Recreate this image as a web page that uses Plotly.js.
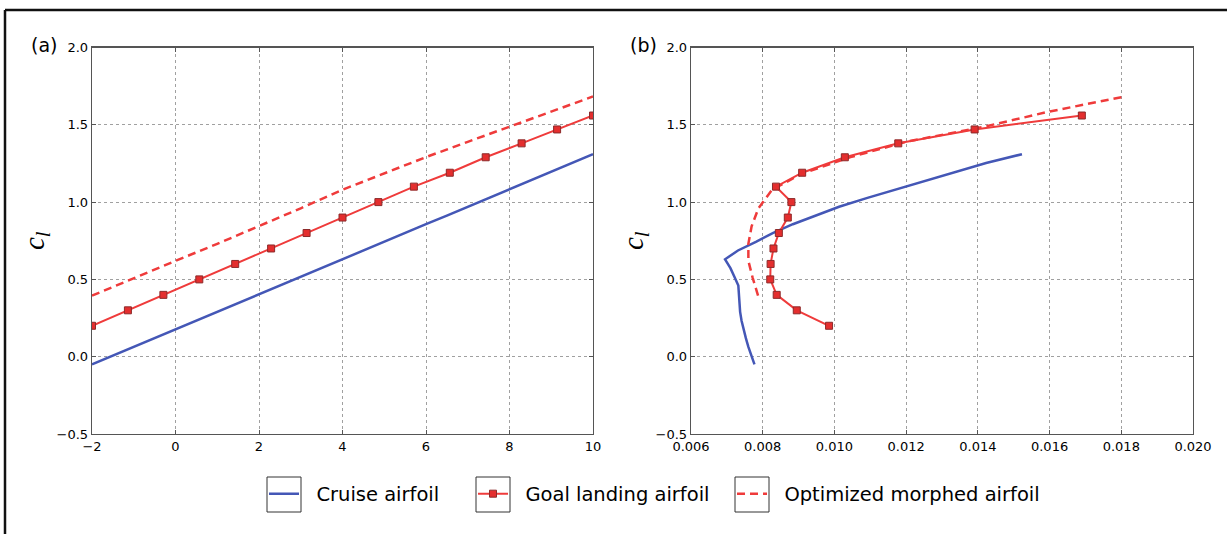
<!DOCTYPE html>
<html>
<head>
<meta charset="utf-8">
<script src="https://cdn.plot.ly/plotly-3.0.1.min.js"></script>
<style>
  html, body { margin: 0; padding: 0; background: #ffffff; }
  #chart { width: 1227px; height: 534px; }
</style>
</head>
<body>
<div id="chart"></div>
<script>
// ---------------- data ----------------
// Cruise airfoil
const cruiseAlpha = [-2, -1.5, -1, -0.5, 0, 0.5, 1, 1.5, 2, 2.5, 3, 3.5, 4, 4.5, 5, 5.5, 6, 6.5, 7, 7.5, 8, 8.5, 9, 9.5, 10];
const cruiseCl    = [-0.05, 0.007, 0.063, 0.12, 0.177, 0.233, 0.29, 0.347, 0.403, 0.46, 0.517, 0.573, 0.63, 0.687, 0.743, 0.80, 0.857, 0.913, 0.97, 1.027, 1.083, 1.14, 1.197, 1.253, 1.31];
const cruiseCd    = [0.00777, 0.00768, 0.00760, 0.00753, 0.00746, 0.00741, 0.00737, 0.00735, 0.00734, 0.00732, 0.00721, 0.00710, 0.00695, 0.00731, 0.00781, 0.00828, 0.00884, 0.00946, 0.01013, 0.01092, 0.01173, 0.01254, 0.01336, 0.01423, 0.01523];

// Goal landing airfoil
const goalAlpha = [-2, -1.14, -0.29, 0.57, 1.43, 2.29, 3.14, 4, 4.86, 5.71, 6.57, 7.43, 8.29, 9.14, 10];
const goalCl    = [0.20, 0.30, 0.40, 0.50, 0.60, 0.70, 0.80, 0.90, 1.00, 1.10, 1.19, 1.29, 1.38, 1.47, 1.56];
const goalCd    = [0.00985, 0.00895, 0.00839, 0.00821, 0.00822, 0.00830, 0.00845, 0.00870, 0.00880, 0.00837, 0.00910, 0.01029, 0.01178, 0.01391, 0.01690];

// Optimized morphed airfoil
const optAlpha = [-2, -1, 0, 1, 2, 3, 4, 5, 6, 7, 8, 9, 10];
const optCl    = [0.395, 0.51, 0.62, 0.73, 0.843, 0.96, 1.08, 1.185, 1.291, 1.39, 1.489, 1.586, 1.683];
const optCd    = [0.00787, 0.00772, 0.00760, 0.00760, 0.00769, 0.00788, 0.00826, 0.00910, 0.01045, 0.01200, 0.01420, 0.01600, 0.01810];

// Tick values / labels
const alphaTicks = [-2, 0, 2, 4, 6, 8, 10];
const cdTicks    = [0.006, 0.008, 0.010, 0.012, 0.014, 0.016, 0.018, 0.020];
const clTicks    = [-0.5, 0.0, 0.5, 1.0, 1.5, 2.0];
const seriesNames = ['Cruise airfoil', 'Goal landing airfoil', 'Optimized morphed airfoil'];
const panelLabels = ['(a)', '(b)'];

// ---------------- styling ----------------
const W = 1227, H = 534;
const M = {l: 20, r: 20, t: 10, b: 10};
const PW = W - M.l - M.r, PH = H - M.t - M.b;
const px = x => (x - M.l) / PW;
const py = y => (H - M.b - y) / PH;
const PAD = '\u00A0\u00A0'; // gap between legend handle box and its label

const BLUE = '#4457b6';
const RED = '#ef3b3b';
const MARKER = {symbol: 'square', size: 7, color: '#e42e2e', line: {color: '#8c2a2a', width: 1}};

const traces = [
  {x: cruiseAlpha, y: cruiseCl, xaxis: 'x', yaxis: 'y', mode: 'lines', name: PAD + seriesNames[0],
   line: {color: BLUE, width: 2.5}, legend: 'legend', showlegend: true},
  {x: goalAlpha, y: goalCl, xaxis: 'x', yaxis: 'y', mode: 'lines+markers', name: PAD + seriesNames[1],
   line: {color: RED, width: 2}, marker: MARKER, legend: 'legend2', showlegend: true},
  {x: optAlpha, y: optCl, xaxis: 'x', yaxis: 'y', mode: 'lines', name: PAD + seriesNames[2],
   line: {color: RED, width: 2.5, dash: '8px,5px'}, legend: 'legend3', showlegend: true},
  {x: cruiseCd, y: cruiseCl, xaxis: 'x2', yaxis: 'y2', mode: 'lines', name: seriesNames[0],
   line: {color: BLUE, width: 2.5}, showlegend: false},
  {x: optCd, y: optCl, xaxis: 'x2', yaxis: 'y2', mode: 'lines', name: seriesNames[2],
   line: {color: RED, width: 2.5, dash: '8px,5px'}, showlegend: false},
  {x: goalCd, y: goalCl, xaxis: 'x2', yaxis: 'y2', mode: 'lines+markers', name: seriesNames[1],
   line: {color: RED, width: 2}, marker: MARKER, showlegend: false}
];

const tickFont = {family: 'DejaVu Sans', size: 13, color: '#000'};
const axisCommon = {
  showline: true, linecolor: '#555', linewidth: 1.3, mirror: 'ticks',
  ticks: 'inside', ticklen: 4, tickcolor: '#555', tickwidth: 1,
  showgrid: true, gridcolor: '#a0a0a0', gridwidth: 1, griddash: 'dot',
  zeroline: false, tickfont: tickFont, fixedrange: true
};
const yTitle = {text: '<i>c</i><sub><i>l</i></sub>', font: {family: 'Liberation Serif', size: 29, color: '#000'}, standoff: 3};

const legendFont = {family: 'DejaVu Sans', size: 19.5, color: '#000'};
const legendY = py(494);
const legendBase = {orientation: 'h', yanchor: 'middle', y: legendY, xanchor: 'left',
  font: legendFont, bgcolor: 'rgba(0,0,0,0)', borderwidth: 0, itemclick: false, itemdoubleclick: false};

// legend handle boxes (pixel positions)
const boxes = [[267, 301], [476, 510], [735, 769]];
const shapes = boxes.map(b => ({type: 'rect', xref: 'paper', yref: 'paper',
  x0: px(b[0]), x1: px(b[1]), y0: py(512), y1: py(477), line: {color: '#333', width: 1}}));
// outer frame (top and left)
shapes.push({type: 'line', xref: 'paper', yref: 'paper', x0: px(5), x1: px(1230), y0: py(10), y1: py(10), line: {color: '#111', width: 2.5}});
shapes.push({type: 'line', xref: 'paper', yref: 'paper', x0: px(5), x1: px(5), y0: py(10), y1: py(540), line: {color: '#111', width: 2.5}});

const layout = {
  width: W, height: H, margin: M,
  paper_bgcolor: '#fff', plot_bgcolor: '#fff',
  font: {family: 'DejaVu Sans', color: '#000'},
  xaxis: Object.assign({}, axisCommon, {domain: [px(92), px(593)], range: [-2, 10], tickvals: alphaTicks, anchor: 'y'}),
  yaxis: Object.assign({}, axisCommon, {domain: [py(434), py(47.5)], range: [-0.5, 2.0], tickvals: clTicks, tickformat: '.1f', anchor: 'x', title: yTitle}),
  xaxis2: Object.assign({}, axisCommon, {domain: [px(691), px(1193)], range: [0.006, 0.020], tickvals: cdTicks, tickformat: '.3f', anchor: 'y2'}),
  yaxis2: Object.assign({}, axisCommon, {domain: [py(434), py(47.5)], range: [-0.5, 2.0], tickvals: clTicks, tickformat: '.1f', anchor: 'x2', title: yTitle}),
  legend:  Object.assign({}, legendBase, {x: px(264)}),
  legend2: Object.assign({}, legendBase, {x: px(473)}),
  legend3: Object.assign({}, legendBase, {x: px(732)}),
  shapes: shapes,
  annotations: [
    {text: panelLabels[0], xref: 'paper', yref: 'paper', x: px(43.5), y: py(45), showarrow: false,
     font: {family: 'DejaVu Sans', size: 19, color: '#000'}, xanchor: 'center', yanchor: 'middle'},
    {text: panelLabels[1], xref: 'paper', yref: 'paper', x: px(643), y: py(45), showarrow: false,
     font: {family: 'DejaVu Sans', size: 19, color: '#000'}, xanchor: 'center', yanchor: 'middle'}
  ]
};

Plotly.newPlot('chart', traces, layout, {displayModeBar: false, staticPlot: true});
</script>
</body>
</html>
